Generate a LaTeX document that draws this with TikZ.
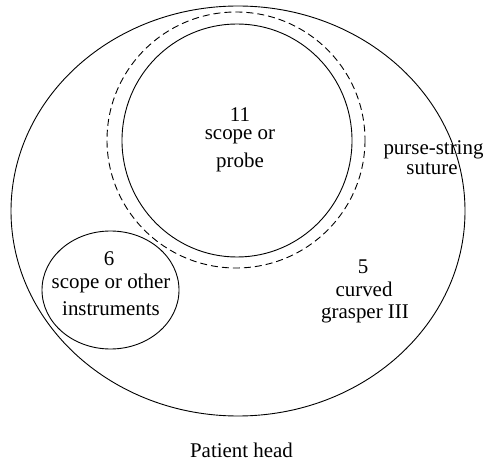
\documentclass[tikz,border=0pt]{standalone}
\usepackage{fontspec}
\setmainfont{Liberation Serif}
\begin{document}
\begin{tikzpicture}[x=1bp,y=-1bp,
  lbl/.style={anchor=base,inner sep=0pt,font=\fontsize{21}{24}\selectfont},
  outline/.style={draw=black,line width=0.9bp}]
\useasboundingbox (0,0) rectangle (487,462);
% outer patient area
\draw[outline] (238,211) ellipse [x radius=227, y radius=205];
% purse-string suture (dashed)
\draw[outline,dash pattern=on 7bp off 4bp] (236,140) ellipse [x radius=129, y radius=128];
% 11 mm port
\draw[outline] (237,140.5) ellipse [x radius=115, y radius=116.5];
% 6 mm port
\draw[outline] (110.5,290) ellipse [x radius=68.5, y radius=59];
% labels
\node[lbl] (n11) at (240,121.5) {11};
\node[lbl] (s11) at (240,140) {scope or};
\node[lbl] (p11) at (240,168) {probe};
\node[lbl] (n6) at (109,265) {6};
\node[lbl] (s6) at (111,288) {scope or other};
\node[lbl] (i6) at (111,315) {instruments};
\node[lbl] (n5) at (363,273) {5};
\node[lbl] (c5) at (364,296) {curved};
\node[lbl] (g5) at (365,318) {grasper III};
\node[lbl] (ps) at (433.5,155) {purse-string};
\node[lbl] (su) at (432,175) {suture};
\node[lbl] (ph) at (241.5,457) {Patient head};
\end{tikzpicture}
\end{document}
